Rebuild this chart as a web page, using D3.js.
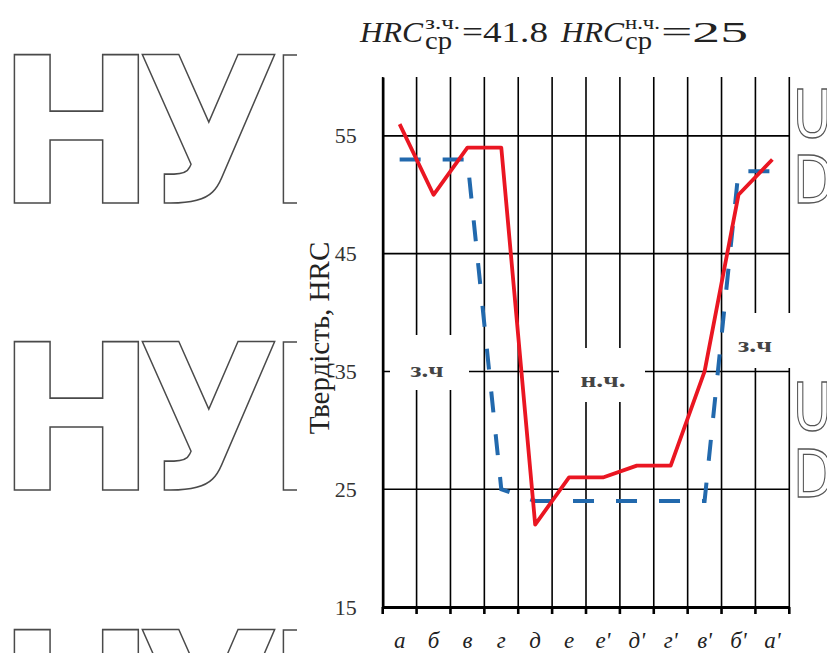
<!DOCTYPE html>
<html>
<head>
<meta charset="utf-8">
<script src="https://cdn.jsdelivr.net/npm/d3@7"></script>
<style>
  html, body { margin: 0; padding: 0; background: #ffffff; }
  svg { display: block; }
</style>
</head>
<body>
<svg id="chart" width="827" height="653"></svg>
<script>
// Zones along the sample (hardened / unhardened)
const categories = ["а", "б", "в", "г", "д", "е", "е'", "д'", "г'", "в'", "б'", "а'"];
// Measured hardness, HRC
const measured = [56, 50, 54, 54, 22, 26, 26, 27, 27, 35, 50, 53];
// Idealised hardness profile (dashed)
const profile = [53, 53, 53, 25, 24, 24, 24, 24, 24, 24, 52, 52];
const yTicks = [15, 25, 35, 45, 55];
const zoneLabels = [
  { text: "з.ч", cx: 427, cy: 370, w: 33, box: [390, 335, 79, 55] },
  { text: "н.ч.", cx: 603, cy: 380, w: 45, box: [559, 348, 86, 54] },
  { text: "з.ч", cx: 755, cy: 345, w: 34, box: [723, 313, 77, 55] }
];

const svg = d3.select("#chart");
const W = 827, H = 653;

// ---- background lettering (outlined) ----
svg.append("clipPath").attr("id", "leftClip")
  .append("rect").attr("x", 0).attr("y", 0).attr("width", 297).attr("height", H);
const wm = svg.append("g").attr("clip-path", "url(#leftClip)")
  .attr("fill", "#ffffff").attr("stroke", "#4a4a4a").attr("stroke-width", 1.6)
  .attr("font-family", "DejaVu Sans").attr("font-weight", "bold").attr("font-size", 204);
[203, 490, 778].forEach(base => {
  wm.append("text").attr("transform", `translate(-3,${base}) scale(0.93,1)`).text("Н");
  wm.append("text").attr("transform", `translate(137,${base}) scale(0.91,1)`).text("У");
  wm.append("text").attr("transform", `translate(266,${base}) scale(0.93,1)`).text("Б");
});
const wmR = svg.append("g").attr("fill", "#ffffff").attr("stroke", "#555")
  .attr("stroke-width", 1.3).attr("font-family", "DejaVu Sans").attr("font-size", 66);
[[793, 137, "U"], [793, 203, "D"], [793, 430, "U"], [793, 497, "D"]].forEach(([xx, yy, t]) => {
  wmR.append("text").attr("transform", `translate(${xx},${yy}) scale(0.8,1)`).text(t);
});
// chart canvas covers the lettering behind it
svg.append("rect").attr("x", 297).attr("y", 0).attr("width", 496).attr("height", H).attr("fill", "#ffffff");

// ---- scales ----
const x = d3.scaleBand().domain(categories).range([382.7, 789.3]).paddingInner(0).paddingOuter(0);
const y = d3.scaleLinear().domain([15, 60]).range([607, 77]);
const cx = c => x(c) + x.bandwidth() / 2;

// ---- grid ----
const grid = svg.append("g").attr("stroke", "#000").attr("stroke-width", 1.6);
const bounds = categories.map(c => x(c)).concat([x.range()[1]]);
bounds.forEach(b => grid.append("line").attr("x1", b).attr("x2", b).attr("y1", y(60)).attr("y2", y(15)));
yTicks.filter(t => t > 15).forEach(t =>
  grid.append("line").attr("x1", x.range()[0]).attr("x2", x.range()[1]).attr("y1", y(t)).attr("y2", y(t)));

// white label boxes sit over the grid
zoneLabels.forEach(z => {
  svg.append("rect").attr("x", z.box[0]).attr("y", z.box[1]).attr("width", z.box[2]).attr("height", z.box[3])
    .attr("fill", "#ffffff");
});

// ---- axes ----
const xAxis = d3.axisBottom(x).tickSize(0).tickPadding(25).tickFormat(d => d);
const gx = svg.append("g").attr("transform", `translate(0,${y(15)})`).call(xAxis);
gx.select(".domain").attr("stroke", "#000").attr("stroke-width", 3.2);
gx.selectAll("text").attr("font-family", "Liberation Serif").attr("font-style", "italic")
  .attr("font-size", 23).attr("fill", "#222");
bounds.forEach(b => gx.append("line").attr("x1", b).attr("x2", b).attr("y1", 0).attr("y2", 7)
  .attr("stroke", "#000").attr("stroke-width", 2.6));

const yAxis = d3.axisLeft(y).tickValues(yTicks).tickSize(0).tickPadding(26);
const gy = svg.append("g").attr("transform", `translate(${x.range()[0]},0)`).call(yAxis);
gy.select(".domain").attr("stroke", "#000").attr("stroke-width", 2.6);
gy.selectAll("text").attr("font-family", "Liberation Serif").attr("font-size", 22).attr("fill", "#333");

// ---- series ----
const line = vals => d3.line().x((d, i) => cx(categories[i])).y(d => y(d))(vals);
svg.append("path").attr("d", line(profile)).attr("fill", "none").attr("stroke", "#2269ad")
  .attr("stroke-width", 4).attr("stroke-dasharray", "21,22");
svg.append("path").attr("d", line(measured)).attr("fill", "none").attr("stroke", "#ea1622")
  .attr("stroke-width", 3.8).attr("stroke-linejoin", "round");

// ---- zone captions ----
zoneLabels.forEach(z => {
  svg.append("text").attr("x", z.cx - z.w / 2).attr("y", z.cy).attr("dy", "0.35em")
    .attr("textLength", z.w).attr("lengthAdjust", "spacingAndGlyphs")
    .attr("font-family", "Liberation Serif").attr("font-weight", "bold").attr("font-size", 21)
    .attr("fill", "#444").text(z.text);
});

// ---- y title ----
svg.append("text").attr("transform", "translate(329,338) rotate(-90)").attr("text-anchor", "middle")
  .attr("font-family", "Liberation Serif").attr("font-size", 29).attr("fill", "#222")
  .text("Твердість, HRC");

// ---- heading ----
const head = svg.append("g").attr("font-family", "Liberation Serif").attr("fill", "#222");
const part = (xx, yy, size, txt, italic, len) => {
  const t = head.append("text").attr("x", xx).attr("y", yy)
    .attr("font-size", size).attr("font-style", italic ? "italic" : "normal").text(txt);
  if (len) t.attr("textLength", len).attr("lengthAdjust", "spacingAndGlyphs");
  return t;
};
part(360, 42, 30, "HRC", true, 63);
part(425, 49, 25, "ср", false, 27);
part(425, 29, 18, "з.ч.", false, 35);
part(462, 42, 30, "=41.8", false, 86);
part(561, 42, 30, "HRC", true, 63);
part(625, 49, 25, "ср", false, 27);
part(625, 29, 18, "н.ч.", false, 35);
part(661, 42, 30, "=25", false, 87);
</script>
</body>
</html>
